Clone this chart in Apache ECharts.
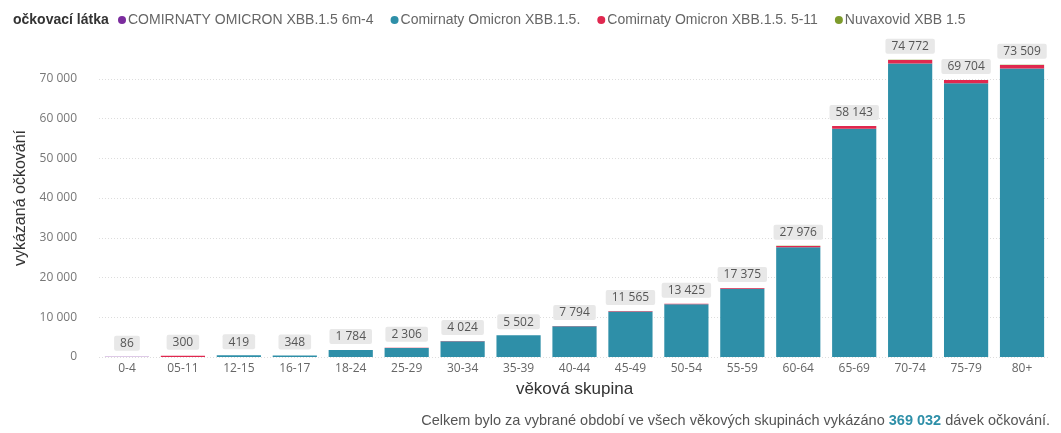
<!DOCTYPE html>
<html>
<head>
<meta charset="utf-8">
<script src="https://cdn.jsdelivr.net/npm/echarts@6/dist/echarts.min.js"></script>
<style>
    html, body { margin: 0; padding: 0; background: #fff; }
    #chart { width: 1061px; height: 433px; }
</style>
</head>
<body>
<div id="chart"></div>
<script>
// věkové skupiny
var categories = ['0-4', '05-11', '12-15', '16-17', '18-24', '25-29', '30-34', '35-39', '40-44',
    '45-49', '50-54', '55-59', '60-64', '65-69', '70-74', '75-79', '80+'];

// vykázaná očkování podle látky
var purpleVals = [86, 0, 0, 0, 0, 0, 0, 0, 0, 0, 0, 0, 0, 0, 0, 0, 0];
var tealVals = [0, 0, 419, 346, 1770, 2285, 3990, 5450, 7720, 11440, 13280, 17180, 27600, 57450, 73850, 68850, 72600];
var redVals = [0, 300, 0, 2, 14, 21, 30, 45, 64, 110, 130, 175, 350, 660, 880, 820, 880];
var greenVals = [0, 0, 0, 0, 0, 0, 4, 7, 10, 15, 15, 20, 26, 33, 42, 34, 29];

var seriesNames = ['COMIRNATY OMICRON XBB.1.5 6m-4', 'Comirnaty Omicron XBB.1.5.', 'Comirnaty Omicron XBB.1.5. 5-11', 'Nuvaxovid XBB 1.5'];
var seriesColors = ['#7b2c9e', '#2e8fa8', '#e0284f', '#7d9b2c'];

var yTicks = [0, 10000, 20000, 30000, 40000, 50000, 60000, 70000];

var totals = categories.map(function (c, i) {
    return purpleVals[i] + tealVals[i] + redVals[i] + greenVals[i];
});
var grandTotal = totals.reduce(function (a, b) { return a + b; }, 0);

function fmt(v) {
    return String(v).replace(/\B(?=(\d{3})+(?!\d))/g, ' ');
}

var chart = echarts.init(document.getElementById('chart'));
var font = 'Liberation Sans, Arial, sans-serif';

var dataSets = [purpleVals, tealVals, redVals, greenVals];
var series = dataSets.map(function (d, i) {
    return {
        name: seriesNames[i],
        type: 'bar',
        stack: 'total',
        barWidth: '79%',
        itemStyle: { color: seriesColors[i] },
        data: d
    };
});
// součet nad sloupci
series.push({
    name: 'celkem',
    type: 'bar',
    stack: 'total',
    barWidth: '79%',
    itemStyle: { color: 'transparent' },
    data: totals.map(function () { return 0; }),
    label: {
        show: true,
        position: 'top',
        distance: 6,
        formatter: function (p) { return fmt(totals[p.dataIndex]); },
        color: '#555',
        fontSize: 12,
        fontFamily: 'Open Sans, sans-serif',
        backgroundColor: '#e8e8e8',
        borderRadius: 2,
        padding: [2, 6, 1, 6]
    }
});

var option = {
    animation: false,
    textStyle: { fontFamily: font },
    title: [{
        text: 'očkovací látka',
        left: 8,
        top: 8,
        textStyle: { fontSize: 14, fontWeight: 'bold', color: '#333', fontFamily: font }
    }, {
        text: 'Celkem bylo za vybrané období ve všech věkových skupinách vykázáno {b|' + fmt(grandTotal) + '} dávek očkování.',
        right: 6,
        bottom: 0,
        textStyle: {
            fontSize: 14.5, fontWeight: 'normal', color: '#555', fontFamily: font,
            rich: { b: { fontSize: 14.5, fontWeight: 'bold', color: '#2e8fa8', fontFamily: font } }
        }
    }],
    legend: {
        data: seriesNames,
        left: 113,
        top: 8,
        icon: 'circle',
        itemWidth: 8,
        itemHeight: 8,
        itemGap: 17,
        textStyle: { fontSize: 14, color: '#666', padding: [0, 0, 0, -3] }
    },
    grid: {
        left: 99,
        right: 11,
        top: 39,
        bottom: 76
    },
    xAxis: {
        type: 'category',
        data: categories,
        name: 'věková skupina',
        nameLocation: 'middle',
        nameGap: 24,
        nameTextStyle: { fontSize: 17, color: '#333' },
        axisLine: { show: false },
        axisTick: { show: false },
        axisLabel: { fontSize: 12, color: '#666', margin: 6, fontFamily: 'Open Sans, sans-serif' }
    },
    yAxis: {
        type: 'value',
        min: 0,
        max: 80000,
        interval: 10000,
        name: 'vykázaná očkování',
        nameLocation: 'middle',
        nameGap: 68,
        nameTextStyle: { fontSize: 16, color: '#333' },
        axisLine: { show: false },
        axisTick: { show: false },
        axisLabel: {
            showMaxLabel: false,
            fontSize: 12,
            color: '#777',
            margin: 22,
            fontFamily: 'Open Sans, sans-serif',
            formatter: function (v) { return yTicks.indexOf(v) >= 0 ? fmt(v) : ''; }
        },
        splitLine: {
            showMaxLine: false,
            lineStyle: { color: '#ddd', type: [1, 2] }
        }
    },
    series: series
};

chart.setOption(option);
</script>
</body>
</html>
